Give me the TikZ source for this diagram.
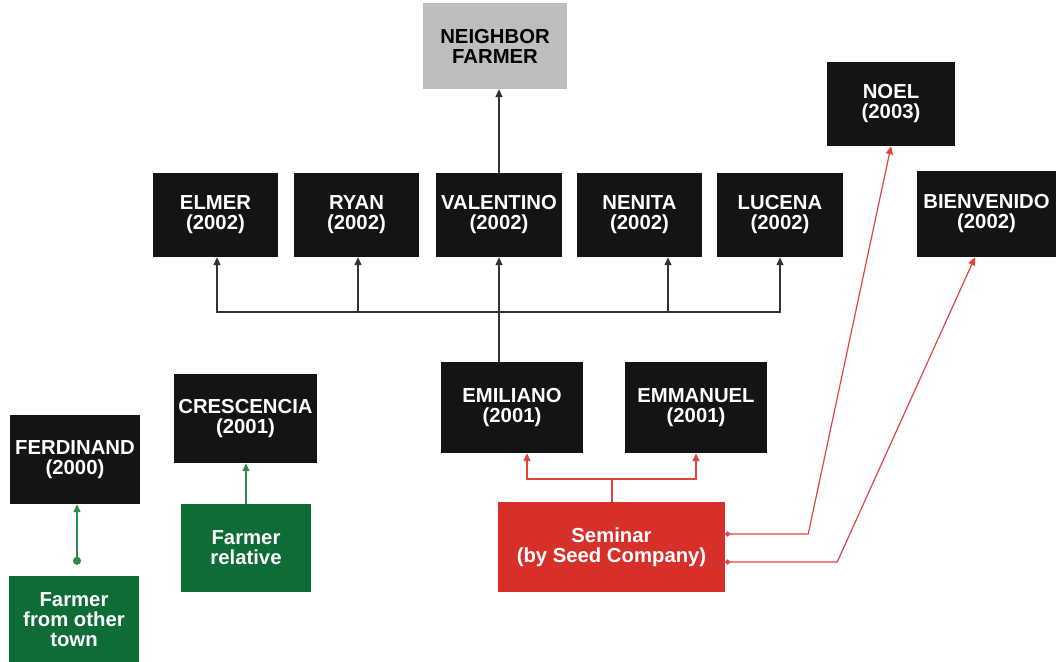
\documentclass[tikz,border=0pt]{standalone}
\usepackage{fontspec}
\setmainfont{Liberation Sans}
\usetikzlibrary{arrows.meta}
\definecolor{boxblack}{HTML}{131415}
\definecolor{boxgray}{HTML}{BEBEC0}
\definecolor{boxred}{HTML}{D7302A}
\definecolor{boxgreen}{HTML}{0E6C37}
\definecolor{linegray}{HTML}{333333}
\definecolor{linered}{HTML}{E0443C}
\definecolor{linegreen}{HTML}{2E8B4A}
\tikzset{
  box/.style={rectangle, inner sep=0pt, align=center, text=white,
    font=\bfseries\fontsize{20.3}{20}\selectfont},
  person/.style={box, fill=boxblack},
  source/.style={box, fill=boxgray, text=black},
  seminarbox/.style={box, fill=boxred},
  kinbox/.style={box, fill=boxgreen},
  tip/.style={-{Triangle[length=8pt,width=7pt]}},
  blkarrow/.style={draw=linegray, line width=1.4pt, tip},
  blkline/.style={draw=linegray, line width=1.4pt},
  redarrow/.style={draw=linered, line width=1.2pt, tip},
  redline/.style={draw=linered, line width=1.2pt},
  grnarrow/.style={draw=linegreen, line width=1.4pt, tip},
}
\begin{document}
\begin{tikzpicture}[x=1pt,y=-1pt]
\useasboundingbox (0,0) rectangle (1056,661);

% top source
\node[source, minimum width=144pt, minimum height=86pt] (neighbor) at (495,46) {NEIGHBOR\\FARMER};

% 2002 row
\node[person, minimum width=125pt, minimum height=84pt] (elmer) at (215.5,215) {ELMER\\(2002)};
\node[person, minimum width=125pt, minimum height=84pt] (ryan) at (356.5,215) {RYAN\\(2002)};
\node[person, minimum width=126pt, minimum height=84pt] (valentino) at (499,215) {VALENTINO\\(2002)};
\node[person, minimum width=125pt, minimum height=84pt] (nenita) at (639.5,215) {NENITA\\(2002)};
\node[person, minimum width=126pt, minimum height=84pt] (lucena) at (780,215) {LUCENA\\(2002)};
\node[person, minimum width=128pt, minimum height=84pt] (noel) at (891,104) {NOEL\\(2003)};
\node[person, minimum width=139pt, minimum height=86pt] (bienvenido) at (986.5,214) {BIENVENIDO\\(2002)};

% 2001 row
\node[person, minimum width=142pt, minimum height=91pt] (emiliano) at (512,407.5) {EMILIANO\\(2001)};
\node[person, minimum width=142pt, minimum height=91pt] (emmanuel) at (696,407.5) {EMMANUEL\\(2001)};
\node[person, minimum width=143pt, minimum height=89pt] (crescencia) at (245.5,418.5) {CRESCENCIA\\(2001)};
\node[person, minimum width=130pt, minimum height=89pt] (ferdinand) at (75,459.5) {FERDINAND\\(2000)};

% sources
\node[seminarbox, minimum width=227pt, minimum height=90pt] (seminar) at (611.5,547) {Seminar\\(by Seed Company)};
\node[kinbox, minimum width=130pt, minimum height=88pt] (relative) at (246,548) {Farmer\\relative};
\node[kinbox, minimum width=130pt, minimum height=88pt] (othertown) at (74,620) {Farmer\\from other\\town};

% Emiliano spreads to the 2002 group
\coordinate (hub) at (499,312);
\draw[blkline] (emiliano.north -| hub) -- (hub);
\draw[blkarrow] (hub) -- (valentino.south);
\draw[blkarrow] (hub) -| ([xshift=1.5pt]elmer.south);
\draw[blkarrow] (hub) -| ([xshift=1.5pt]ryan.south);
\draw[blkarrow] (hub) -| ([xshift=28.5pt]nenita.south);
\draw[blkarrow] (hub) -| (lucena.south);
\draw[blkarrow] (valentino.north) -- (valentino.north |- neighbor.south);

% seminar links
\coordinate (rj) at (612,479);
\draw[redline] (seminar.north -| rj) -- (rj);
\draw[redarrow] (rj) -| ([xshift=15pt]emiliano.south);
\draw[redarrow] (rj) -| (emmanuel.south);
\draw[redarrow, {Circle[length=5pt]}-{Triangle[length=8pt,width=7pt]}]
  ([yshift=13pt]seminar.east) -- ++(83,0) -- (noel.south);
\draw[redarrow, {Circle[length=5pt]}-{Triangle[length=8pt,width=7pt]}]
  ([yshift=-15pt]seminar.east) -- ++(112,0) -- ([xshift=-11.5pt]bienvenido.south);

% family links
\draw[grnarrow] (relative.north) -- (crescencia.south -| relative.north);
\draw[grnarrow, {Circle[length=8pt]}-{Triangle[length=8pt,width=7pt]}]
  ([xshift=3pt,yshift=11pt]othertown.north) -- ([xshift=2pt]ferdinand.south);
\end{tikzpicture}
\end{document}
